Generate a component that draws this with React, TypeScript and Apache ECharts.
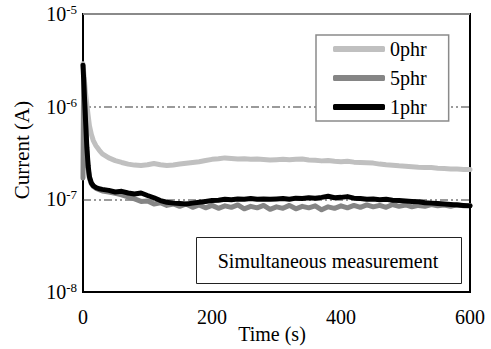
import React, { useEffect, useRef } from "react";
import * as echarts from "echarts";

const FONT = "'Liberation Serif', 'Times New Roman', serif";
const W = 491;
const H = 349;
const GRID = { left: 83, right: 21, top: 14, bottom: 57 };

const time = [
  0, 1, 2, 4, 6, 8, 10, 13, 16, 20, 25, 30,
  40, 50, 60, 70, 80, 90, 100, 110, 120, 130, 140, 150, 160, 170, 180, 190,
  200, 210, 220, 230, 240, 250, 260, 270, 280, 290, 300, 310, 320, 330, 340,
  350, 360, 370, 380, 390, 400, 410, 420, 430, 440, 450, 460, 470, 480, 490,
  500, 510, 520, 530, 540, 550, 560, 570, 580, 590, 600,
];

const phr0 = [
  2.9e-6, 2.4e-6, 2.0e-6, 1.4e-6, 1.05e-6, 8.0e-7, 6.2e-7, 5.0e-7, 4.3e-7, 3.8e-7, 3.4e-7, 3.1e-7,
  2.8e-7, 2.62e-7, 2.5e-7, 2.4e-7, 2.34e-7, 2.32e-7, 2.36e-7, 2.44e-7, 2.36e-7, 2.32e-7, 2.35e-7, 2.4e-7,
  2.45e-7, 2.5e-7, 2.55e-7, 2.62e-7,
  2.7e-7, 2.74e-7, 2.8e-7, 2.76e-7, 2.72e-7, 2.74e-7, 2.7e-7, 2.73e-7, 2.69e-7, 2.66e-7, 2.68e-7,
  2.7e-7, 2.67e-7, 2.7e-7, 2.72e-7,
  2.66e-7, 2.64e-7, 2.6e-7, 2.63e-7, 2.58e-7, 2.55e-7, 2.57e-7, 2.52e-7, 2.5e-7, 2.48e-7, 2.46e-7,
  2.4e-7, 2.36e-7, 2.33e-7, 2.3e-7,
  2.28e-7, 2.25e-7, 2.22e-7, 2.2e-7, 2.2e-7, 2.17e-7, 2.15e-7, 2.13e-7, 2.12e-7, 2.1e-7, 2.1e-7,
];

const phr5 = [
  1.7e-7, 2.1e-6, 1.3e-6, 6.5e-7, 3.3e-7, 2.15e-7, 1.68e-7, 1.47e-7, 1.38e-7, 1.32e-7, 1.27e-7, 1.23e-7,
  1.2e-7, 1.16e-7, 1.12e-7, 1.06e-7, 1.01e-7, 9.5e-8, 9.6e-8, 8.9e-8, 9.2e-8, 8.6e-8, 8.9e-8, 8.4e-8,
  8.9e-8, 8.2e-8, 8.7e-8, 8.1e-8,
  8.6e-8, 8.0e-8, 8.5e-8, 8.2e-8, 8.7e-8, 7.9e-8, 8.4e-8, 8.1e-8, 8.6e-8, 7.8e-8, 8.3e-8,
  8.0e-8, 8.6e-8, 7.9e-8, 8.4e-8,
  8.1e-8, 8.5e-8, 7.7e-8, 8.3e-8, 8.0e-8, 8.5e-8, 8.1e-8, 8.6e-8, 8.2e-8, 8.7e-8, 8.3e-8,
  8.6e-8, 8.2e-8, 8.8e-8, 8.4e-8,
  8.7e-8, 8.3e-8, 8.6e-8, 8.4e-8, 8.8e-8, 8.5e-8, 8.7e-8, 8.4e-8, 8.8e-8, 8.5e-8, 8.6e-8,
];

const phr1 = [
  2.8e-6, 2.0e-6, 1.4e-6, 7.0e-7, 3.6e-7, 2.3e-7, 1.75e-7, 1.5e-7, 1.4e-7, 1.34e-7, 1.3e-7, 1.28e-7,
  1.25e-7, 1.2e-7, 1.22e-7, 1.17e-7, 1.14e-7, 1.17e-7, 1.1e-7, 1.04e-7, 9.7e-8, 9.3e-8, 9.1e-8, 9.0e-8,
  8.9e-8, 9.1e-8, 9.3e-8, 9.5e-8,
  9.7e-8, 9.8e-8, 1.0e-7, 9.9e-8, 1.01e-7, 1.0e-7, 1.02e-7, 1.0e-7, 1.01e-7, 1.0e-7, 1.01e-7,
  1.02e-7, 1.0e-7, 1.03e-7, 1.02e-7,
  1.04e-7, 1.03e-7, 1.05e-7, 1.08e-7, 1.04e-7, 1.05e-7, 1.07e-7, 1.03e-7, 1.02e-7, 1.0e-7, 1.01e-7,
  9.9e-8, 1.0e-7, 9.8e-8, 9.7e-8,
  9.6e-8, 9.5e-8, 9.4e-8, 9.2e-8, 9.1e-8, 9.0e-8, 8.9e-8, 8.8e-8, 8.7e-8, 8.6e-8, 8.5e-8,
];

const seriesNames = ["0phr", "5phr", "1phr"];
const seriesColors = ["#c0c0c0", "#858585", "#000000"];
const seriesValues = [phr0, phr5, phr1];

const xTicks = { min: 0, max: 600, interval: 200 };
const yRange = { min: 1e-8, max: 1e-5 };
const xTitle = "Time (s)";
const yTitle = "Current (A)";
const boxText = "Simultaneous measurement";

export default function App() {
  const ref = useRef<HTMLDivElement>(null);

  useEffect(() => {
    document.body.style.margin = "0";
    if (!ref.current) return;
    const chart = echarts.init(ref.current, null, { renderer: "svg" });

    const series = seriesNames.map((name, k) => ({
      name,
      type: "line",
      showSymbol: false,
      symbol: "none",
      lineStyle: { width: 5, color: seriesColors[k], cap: "round", join: "round" },
      itemStyle: { color: seriesColors[k] },
      data: time.map((t, i) => [t, seriesValues[k][i]]),
    }));

    const plotRight = W - GRID.right;

    chart.setOption({
      animation: false,
      backgroundColor: "#fff",
      grid: {
        ...GRID,
        containLabel: false,
        show: true,
        borderColor: "#000",
        borderWidth: 2,
        backgroundColor: "transparent",
      },
      xAxis: {
        type: "value",
        position: "bottom",
        min: xTicks.min,
        max: xTicks.max,
        interval: xTicks.interval,
        axisLine: { show: true, onZero: false, lineStyle: { color: "#000", width: 2 } },
        axisTick: { show: false },
        splitLine: { show: false },
        axisLabel: { fontSize: 20, fontFamily: FONT, color: "#000", margin: 15 },
      },
      yAxis: {
        type: "log",
        logBase: 10,
        min: yRange.min,
        max: yRange.max,
        position: "left",
        axisLine: { show: true, onZero: false, lineStyle: { color: "#000", width: 1.5 } },
        axisTick: { show: false },
        splitLine: {
          show: true,
          lineStyle: { color: "#7a7a7a", width: 1.5, type: [8, 3, 2, 3, 2, 3] },
        },
        axisLabel: {
          margin: 6,
          color: "#000",
          formatter: (v: number) => `{b|10}{s|${Math.round(Math.log10(v))}}`,
          rich: {
            b: { fontSize: 20, fontFamily: FONT, color: "#000", lineHeight: 22 },
            s: { fontSize: 13, fontFamily: FONT, color: "#000", verticalAlign: "top", lineHeight: 14 },
          },
        },
      },
      legend: {
        data: seriesNames,
        orient: "vertical",
        left: 316,
        top: 35,
        padding: [4, 22, 4, 17],
        itemGap: 9,
        itemWidth: 52,
        itemHeight: 6,
        icon: "roundRect",
        backgroundColor: "#fff",
        borderColor: "#8a8a8a",
        borderWidth: 1.5,
        borderRadius: 0,
        textStyle: { fontSize: 20, fontFamily: FONT, color: "#000" },
      },
      graphic: [
        {
          type: "rect",
          left: GRID.left,
          top: GRID.top - 1,
          shape: { width: plotRight - GRID.left, height: 2 },
          style: { fill: "#8a8a8a" },
          z: 50,
        },
        {
          type: "rect",
          left: 196,
          top: 237,
          shape: { width: 265, height: 46 },
          style: { fill: "#fff", stroke: "#222", lineWidth: 1 },
          z: 10,
        },
        {
          type: "text",
          x: 328,
          y: 261,
          style: {
            text: boxText,
            fontSize: 20,
            fontFamily: FONT,
            fill: "#000",
            align: "center",
            verticalAlign: "middle",
          },
          z: 11,
        },
        {
          type: "text",
          x: 272,
          y: 334,
          style: {
            text: xTitle,
            fontSize: 20,
            fontFamily: FONT,
            fill: "#000",
            align: "center",
            verticalAlign: "middle",
          },
        },
        {
          type: "text",
          x: 22,
          y: 150,
          rotation: Math.PI / 2,
          style: {
            text: yTitle,
            fontSize: 21,
            fontFamily: FONT,
            fill: "#000",
            align: "center",
            verticalAlign: "middle",
          },
        },
      ],
      series,
    });

    return () => chart.dispose();
  }, []);

  return <div ref={ref} style={{ width: W, height: H }} />;
}
